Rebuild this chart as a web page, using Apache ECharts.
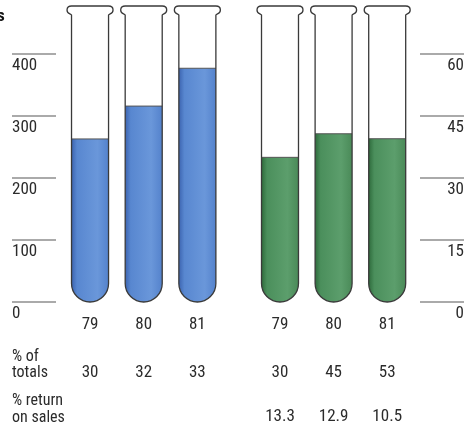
<!DOCTYPE html>
<html><head><meta charset="utf-8">
<script src="https://cdn.jsdelivr.net/npm/echarts@6/dist/echarts.min.js"></script>
<style>html,body{margin:0;padding:0;background:#fff}#c{width:467px;height:429px}</style>
</head><body><div id="c"></div>
<script>
// ---- data ----
const years = ['79', '80', '81'];
const leftValues = [263, 316, 377];        // blue tubes, left axis (0-400)
const rightValues = [35, 40.7, 39.5];      // green tubes, right axis (0-60)
const pctTotalsLeft = ['30', '32', '33'];
const pctTotalsRight = ['30', '45', '53'];
const returnLeft = ['', '', ''];
const returnRight = ['13.3', '12.9', '10.5'];
const leftTicks = [0, 100, 200, 300, 400];
const rightTicks = [0, 15, 30, 45, 60];

const FONT = '"Roboto Condensed", "Liberation Sans Narrow", "Liberation Sans", sans-serif';
const TXT = '#2b2b2b';

function tube(stops) {
  return function (params, api) {
    const i = api.value(0), v = api.value(1);
    const base = api.coord([i, 0]);
    const lvl = api.coord([i, v]);
    const cx = base[0], y0 = base[1];
    const w = api.size([1, 0])[0] * 0.69, r = w / 2;
    const xL = cx - r, xR = cx + r;
    const yT = params.coordSys.y - 48;
    const fillPath = `M${xL},${lvl[1]} L${xR},${lvl[1]} L${xR},${y0 - r} A${r},${r} 0 0 1 ${xL},${y0 - r} Z`;
    const outline = `M${xL},${yT + 9} C${xL - 1},${yT + 7.5} ${xL - 4.5},${yT + 8} ${xL - 4.5},${yT + 4} C${xL - 4.5},${yT + 1} ${xL - 2.5},${yT} ${xL},${yT} L${xR},${yT} C${xR + 2.5},${yT} ${xR + 4.5},${yT + 1} ${xR + 4.5},${yT + 4} C${xR + 4.5},${yT + 8} ${xR + 1},${yT + 7.5} ${xR},${yT + 9} L${xR},${y0 - r} A${r},${r} 0 0 1 ${xL},${y0 - r} Z`;
    return {
      type: 'group',
      children: [
        { type: 'path', shape: { pathData: outline }, style: { fill: '#fff', stroke: 'none' } },
        { type: 'path', shape: { pathData: fillPath },
          style: { fill: new echarts.graphic.LinearGradient(0, 0, 1, 0, stops), stroke: 'none' } },
        { type: 'line', shape: { x1: xL, y1: lvl[1], x2: xR, y2: lvl[1] }, style: { stroke: '#555', lineWidth: 1 } },
        { type: 'path', shape: { pathData: outline }, style: { fill: 'none', stroke: '#3a3a3a', lineWidth: 1.3 } }
      ]
    };
  };
}

const blueStops = [
  { offset: 0, color: '#3c64b0' }, { offset: 0.15, color: '#5887d0' },
  { offset: 0.7, color: '#6a97da' }, { offset: 1, color: '#5482cc' }];
const greenStops = [
  { offset: 0, color: '#2e6b3c' }, { offset: 0.15, color: '#4b8f5c' },
  { offset: 0.7, color: '#5c9e6c' }, { offset: 1, color: '#4a8a58' }];

function catAxis(grid, data, offset, margin) {
  return {
    type: 'category', gridIndex: grid, data: data, position: 'bottom', offset: offset,
    axisLine: { show: false }, axisTick: { show: false },
    axisLabel: { color: TXT, fontFamily: FONT, fontSize: 17, margin: margin, lineHeight: 18, verticalAlign: 'top', interval: 0 }
  };
}

const option = {
  animation: false,
  backgroundColor: '#fff',
  grid: [
    { left: 63.2, width: 161, top: 54, bottom: 127 },
    { left: 253.2, width: 161, top: 54, bottom: 127 }
  ],
  xAxis: [
    catAxis(0, years, 0, 14),
    catAxis(0, pctTotalsLeft, 62, 0),
    catAxis(0, returnLeft, 106, 0),
    catAxis(1, years, 0, 14),
    catAxis(1, pctTotalsRight, 62, 0),
    catAxis(1, returnRight, 106, 0)
  ],
  yAxis: [
    {
      type: 'value', gridIndex: 0, position: 'left', min: leftTicks[0], max: leftTicks[leftTicks.length - 1],
      interval: leftTicks[1] - leftTicks[0], offset: 7.2,
      axisLine: { show: false }, splitLine: { show: false },
      axisTick: { show: true, inside: false, length: 44, lineStyle: { color: '#8f8f8f', width: 1.5 } },
      axisLabel: { align: 'left', margin: 44, verticalAlign: 'top', padding: [3, 0, 0, 0], lineHeight: 18,
        color: TXT, fontFamily: FONT, fontSize: 17 }
    },
    {
      type: 'value', gridIndex: 1, position: 'right', min: rightTicks[0], max: rightTicks[rightTicks.length - 1],
      interval: rightTicks[1] - rightTicks[0], offset: 6,
      axisLine: { show: false }, splitLine: { show: false },
      axisTick: { show: true, inside: false, length: 44, lineStyle: { color: '#8f8f8f', width: 1.5 } },
      axisLabel: { align: 'right', margin: 44, verticalAlign: 'top', padding: [3, 0, 0, 0], lineHeight: 18,
        color: TXT, fontFamily: FONT, fontSize: 17 }
    }
  ],
  graphic: [
    { type: 'text', left: -3, top: 8, style: { text: 's', fill: '#111', font: 'bold 17px ' + FONT } },
    { type: 'text', left: 12, top: 349, style: { text: '% of\ntotals', fill: TXT, fontFamily: FONT, fontSize: 16, lineHeight: 16 } },
    { type: 'text', left: 12, top: 392, style: { text: '% return\non sales', fill: TXT, fontFamily: FONT, fontSize: 16, lineHeight: 17 } }
  ],
  series: [
    { type: 'custom', xAxisIndex: 0, yAxisIndex: 0, clip: false,
      data: leftValues.map((v, i) => [i, v]), renderItem: tube(blueStops) },
    { type: 'custom', xAxisIndex: 3, yAxisIndex: 1, clip: false,
      data: rightValues.map((v, i) => [i, v]), renderItem: tube(greenStops) }
  ]
};
echarts.init(document.getElementById('c')).setOption(option);
</script></body></html>
